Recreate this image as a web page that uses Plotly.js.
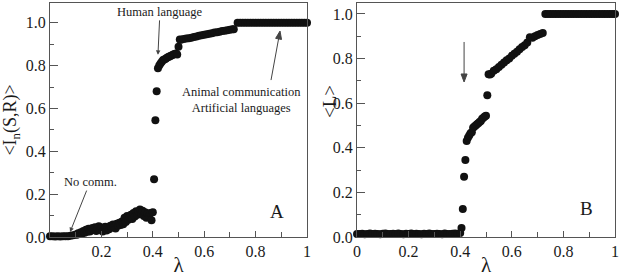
<!DOCTYPE html>
<html><head><meta charset="utf-8">
<script src="https://cdn.plot.ly/plotly-3.0.1.min.js"></script>
<style>html,body{margin:0;padding:0;background:#fff}#chart{width:623px;height:277px}</style>
</head><body><div id="chart"></div>
<script>
// Panel A: normalized mutual information <I_n(S,R)> vs lambda
const lamA = [0,0.01,0.02,0.03,0.04,0.05,0.06,0.07,0.08,0.09,
  0.10,0.105,0.11,0.115,0.12,0.125,0.13,0.135,0.14,0.145,0.15,0.155,0.16,0.165,0.17,0.175,0.18,0.185,0.19,0.195,
  0.20,0.205,0.21,0.215,0.22,0.225,0.23,0.235,0.24,0.245,0.25,0.255,0.26,0.265,0.27,0.275,0.28,0.285,0.29,0.295,
  0.30,0.305,0.31,0.315,0.32,0.325,0.33,0.335,0.34,0.345,0.35,0.355,0.36,0.365,0.37,0.375,0.38,0.385,0.39,0.395,0.40,
  0.405,0.41,0.415,0.42,0.425,0.43,0.435,0.44,0.445,0.45,0.455,0.46,0.465,0.47,0.475,0.48,0.485,0.49,0.495,0.50,
  0.505,0.51,0.52,0.53,0.54,0.55,0.56,0.57,0.58,0.59,0.60,0.61,0.62,0.63,0.64,0.65,0.66,0.67,0.68,0.69,0.70,0.71,0.715,
  0.73,0.74,0.75,0.76,0.77,0.78,0.79,0.80,0.81,0.82,0.83,0.84,0.85,0.86,0.87,0.88,0.89,0.90,0.91,0.92,0.93,0.94,0.95,0.96,0.97,0.98,0.99,1.00];
const infoA = [0.003,0.003,0.002,0.003,0.002,0.003,0.004,0.004,0.006,0.008,
  0.012,0.010,0.018,0.014,0.022,0.016,0.028,0.020,0.034,0.024,0.038,0.026,0.030,0.042,0.036,0.046,0.028,0.040,0.050,0.034,
  0.044,0.026,0.038,0.048,0.030,0.042,0.036,0.052,0.044,0.058,0.048,0.040,0.062,0.052,0.066,0.056,0.072,0.060,0.090,0.070,
  0.098,0.080,0.092,0.104,0.084,0.112,0.096,0.120,0.104,0.118,0.128,0.110,0.122,0.098,0.116,0.090,0.108,0.094,0.112,0.078,0.116,
  0.27,0.545,0.68,0.788,0.800,0.810,0.818,0.826,0.828,0.832,0.836,0.840,0.842,0.846,0.848,0.852,0.854,0.856,0.852,0.888,
  0.922,0.920,0.924,0.926,0.928,0.930,0.933,0.936,0.939,0.941,0.944,0.946,0.949,0.951,0.954,0.956,0.958,0.961,0.963,0.965,0.967,0.969,0.970,
  1,1,1,1,1,1,1,1,1,1,1,1,1,1,1,1,1,1,1,1,1,1,1,1,1,1,1,1];

// Panel B: <L> vs lambda
const lamB = [0,0.01,0.02,0.03,0.04,0.05,0.06,0.07,0.08,0.09,0.10,0.11,0.12,0.13,0.14,0.15,0.16,0.17,0.18,0.19,
  0.20,0.21,0.22,0.23,0.24,0.25,0.26,0.27,0.28,0.29,0.30,0.31,0.32,0.33,0.34,0.35,0.36,0.37,0.38,0.39,0.40,
  0.405,0.41,0.415,0.42,0.425,0.43,0.435,0.44,0.445,0.45,0.455,0.46,0.465,0.47,0.475,0.48,0.485,0.49,0.495,0.50,0.505,
  0.51,0.515,0.52,0.53,0.54,0.55,0.56,0.57,0.58,0.59,0.60,0.61,0.62,0.63,0.64,0.65,0.66,0.67,0.68,0.69,0.70,0.71,0.72,
  0.73,0.74,0.75,0.76,0.77,0.78,0.79,0.80,0.81,0.82,0.83,0.84,0.85,0.86,0.87,0.88,0.89,0.90,0.91,0.92,0.93,0.94,0.95,0.96,0.97,0.98,0.99,1.00];
const lenB = [0.014,0.013,0.015,0.012,0.014,0.016,0.013,0.015,0.014,0.012,0.015,0.016,0.013,0.014,0.015,0.013,0.016,0.014,0.012,0.015,
  0.014,0.016,0.013,0.015,0.014,0.012,0.015,0.013,0.016,0.014,0.013,0.015,0.014,0.012,0.016,0.014,0.013,0.015,0.016,0.014,0.018,
  0.04,0.125,0.27,0.345,0.43,0.445,0.455,0.465,0.47,0.49,0.495,0.50,0.505,0.51,0.515,0.52,0.53,0.535,0.54,0.543,0.635,
  0.73,0.728,0.732,0.745,0.752,0.762,0.772,0.782,0.792,0.80,0.812,0.822,0.83,0.842,0.852,0.86,0.872,0.895,0.893,0.90,0.905,0.91,0.915,
  1,1,1,1,1,1,1,1,1,1,1,1,1,1,1,1,1,1,1,1,1,1,1,1,1,1,1,1];

const xTickValsA = [0.2,0.4,0.6,0.8,1];
const xTickTextA = ['0.2','0.4','0.6','0.8','1'];
const xTickValsB = [0,0.2,0.4,0.6,0.8,1];
const xTickTextB = ['0','0.2','0.4','0.6','0.8','1'];
const yTickVals = [0,0.2,0.4,0.6,0.8,1];
const yTickText = ['0.0','0.2','0.4','0.6','0.8','1.0'];

const F = 'Liberation Serif';
const LC = '#555';
const TXT = '#1a1a1a';
const AC = '#444';

function axis(extra){
  return Object.assign({
    showline:true, mirror:true, linecolor:LC, linewidth:1,
    ticks:'inside', tickcolor:LC, tickwidth:1,
    showgrid:false, zeroline:false,
    tickfont:{family:F, size:16, color:TXT}
  }, extra);
}
const minorX = {tickmode:'linear', tick0:0, dtick:0.1, ticks:'inside', ticklen:5, tickcolor:LC, showgrid:false};
const minorY = {tickmode:'linear', tick0:0, dtick:0.1, ticks:'inside', ticklen:4, tickcolor:LC, showgrid:false};

const mk = {size:8, color:'#111'};
const traces = [
  {x:lamA, y:infoA, xaxis:'x', yaxis:'y', type:'scatter', mode:'markers', marker:mk, cliponaxis:false, hoverinfo:'skip'},
  {x:lamB, y:lenB, xaxis:'x2', yaxis:'y2', type:'scatter', mode:'markers', marker:mk, cliponaxis:false, hoverinfo:'skip'}
];

const tf = {family:F, size:12.5, color:TXT};
const arr = {showarrow:true, arrowhead:2, arrowsize:0.9, arrowwidth:1, arrowcolor:AC};
const annotations = [
  Object.assign({xref:'x', yref:'y', x:0.42, y:0.85, ax:2, ay:-43, text:'Human language', font:tf}, arr),
  Object.assign({xref:'x', yref:'y', x:0.078, y:0.023, ax:20, ay:-50, text:'No comm.', font:tf}, arr),
  {xref:'x', yref:'y', x:0.747, y:0.639, text:'Animal communication<br>Artificial languages', showarrow:false, font:tf},
  {xref:'x', yref:'y', x:0.883, y:0.121, text:'A', showarrow:false, font:{family:F, size:19, color:TXT}},
  {xref:'x2', yref:'y2', x:0.891, y:0.130, text:'B', showarrow:false, font:{family:F, size:19, color:TXT}},
  {xref:'paper', yref:'paper', x:0.4956, y:0.577, text:'&lt;L&gt;', textangle:-90, showarrow:false, font:{family:F, size:19, color:TXT}}
];

// arrows without text, drawn as shapes in pixel offsets from their tip
const shapes = [
  {type:'path', xref:'x', yref:'y', xsizemode:'pixel', ysizemode:'pixel', xanchor:0.895, yanchor:0.961,
   path:'M-9,-49L-1.3,-7 M1.5,-8.4L0,0L-4.4,-7.3Z', line:{color:AC, width:1}, fillcolor:AC},
  {type:'path', xref:'x2', yref:'y2', xsizemode:'pixel', ysizemode:'pixel', xanchor:0.415, yanchor:0.695,
   path:'M0,40L0,7 M-3,8L0,0L3,8Z', line:{color:AC, width:1}, fillcolor:AC}
];

const layout = {
  width:623, height:277,
  margin:{l:50, r:8, t:3, b:40},
  paper_bgcolor:'#fff', plot_bgcolor:'#fff',
  showlegend:false,
  xaxis: axis({domain:[0,0.4549], anchor:'y', range:[0,1], tickmode:'array', tickvals:xTickValsA, ticktext:xTickTextA, ticklen:6, minor:minorX,
    title:{text:'λ', font:{family:F, size:21, color:TXT}, standoff:2}}),
  yaxis: axis({domain:[0,1], anchor:'x', range:[0,1.092], tickmode:'array', tickvals:yTickVals, ticktext:yTickText, ticklen:8, minor:minorY,
    title:{text:'&lt;I<sub>n</sub>(S,R)&gt;', font:{family:F, size:18, color:TXT}, standoff:8}}),
  xaxis2: axis({domain:[0.5434,1], anchor:'y2', range:[0,1], tickmode:'array', tickvals:xTickValsB, ticktext:xTickTextB, ticklen:6, minor:minorX,
    title:{text:'λ', font:{family:F, size:21, color:TXT}, standoff:2}}),
  yaxis2: axis({domain:[0,1], anchor:'x2', range:[0,1.049], tickmode:'array', tickvals:yTickVals, ticktext:yTickText, ticklen:8, minor:minorY}),
  annotations: annotations,
  shapes: shapes
};

Plotly.newPlot('chart', traces, layout, {staticPlot:true, displayModeBar:false});
</script></body></html>
